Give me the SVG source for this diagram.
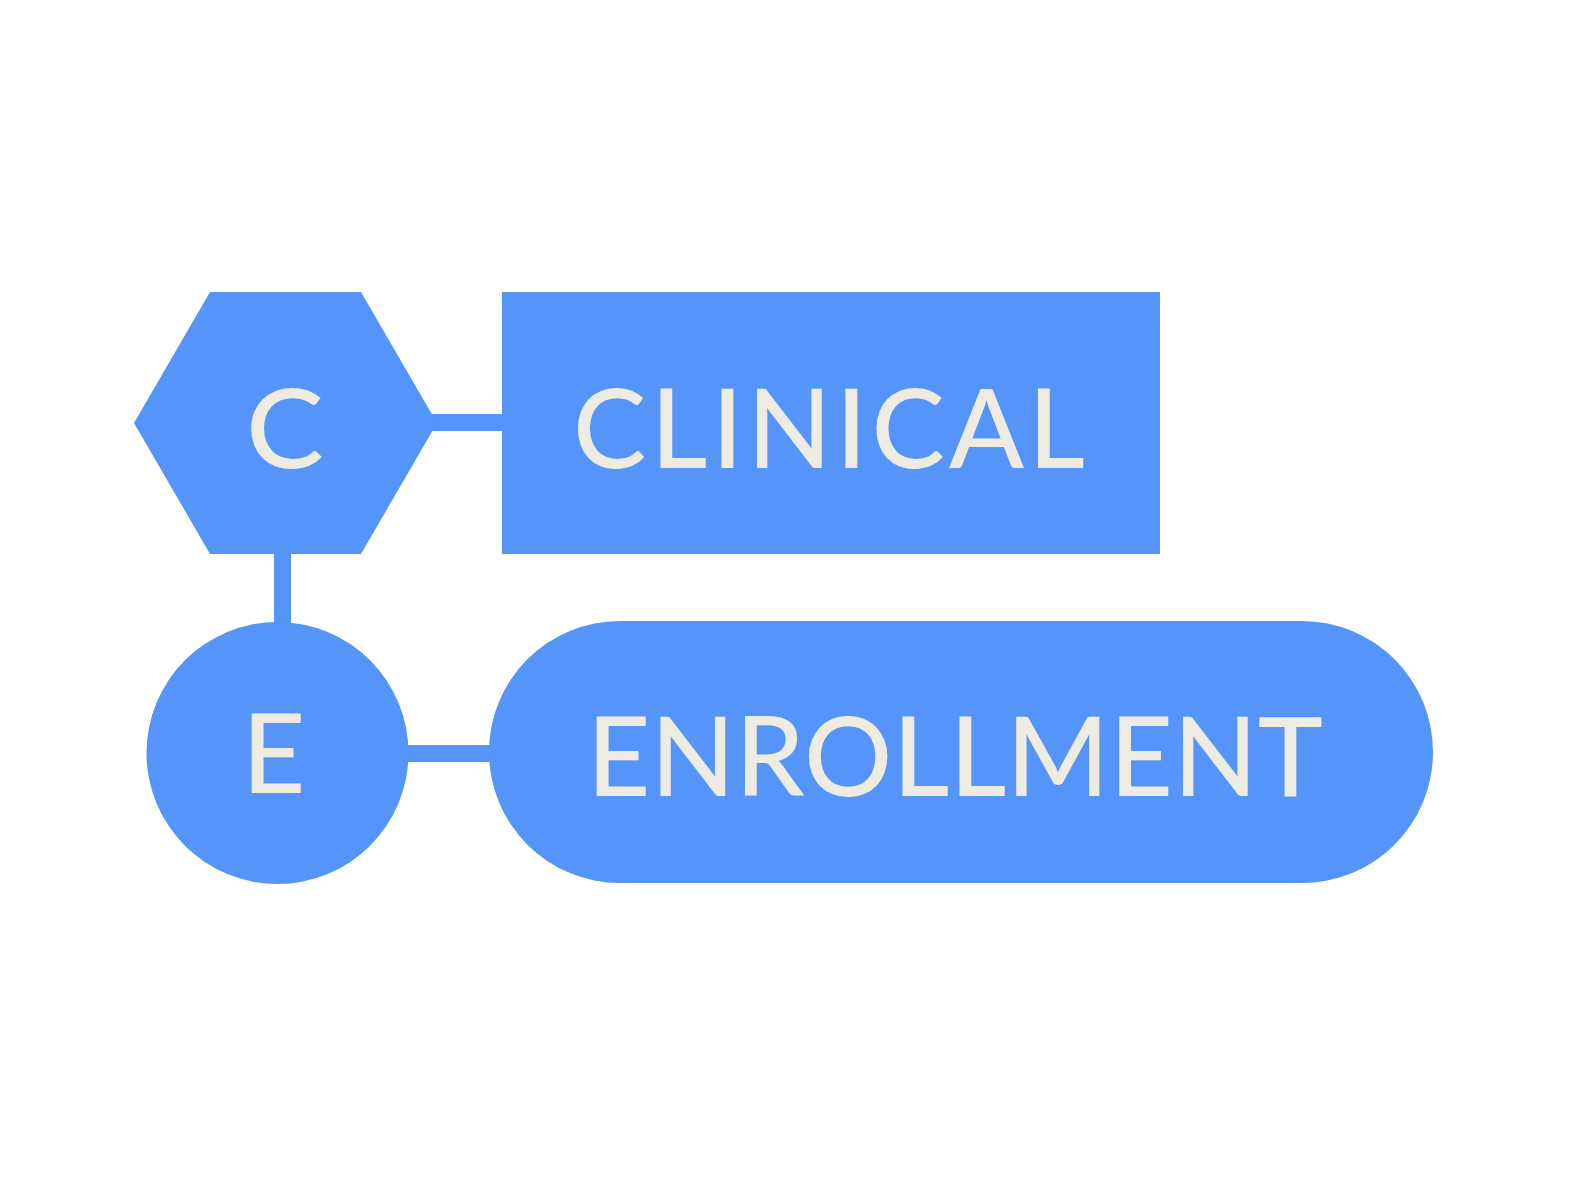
<svg xmlns="http://www.w3.org/2000/svg" width="1570" height="1177" viewBox="0 0 1570 1177">
<style>
.shape{fill:#5594F8;}
.lbl{fill:#EEEBE3;font-family:Lato,"Liberation Sans",sans-serif;font-size:110px;font-weight:500;}
</style>
<rect width="1570" height="1177" fill="#FFFFFF"/>
<g id="connectors">
<rect class="shape" x="425" y="414" width="82" height="17"/>
<rect class="shape" x="274" y="548" width="17" height="82"/>
<rect class="shape" x="400" y="745" width="95" height="17"/>
</g>
<g id="node-c">
<polygon class="shape" points="210,292 361,292 437,423 361,554 210,554 134,423"/>
<text class="lbl" x="246" y="468" textLength="78" lengthAdjust="spacingAndGlyphs">C</text>
</g>
<g id="node-clinical">
<rect class="shape" x="502" y="292" width="658" height="262"/>
<text class="lbl" x="573" y="468" textLength="512" lengthAdjust="spacing">CLINICAL</text>
</g>
<g id="node-e">
<circle class="shape" cx="277.5" cy="753" r="131"/>
<text class="lbl" x="242" y="793">E</text>
</g>
<g id="node-enrollment">
<rect class="shape" x="489" y="621" width="944" height="262" rx="131" ry="131"/>
<text class="lbl" x="587" y="796" textLength="736" lengthAdjust="spacing">ENROLLMENT</text>
</g>
</svg>
